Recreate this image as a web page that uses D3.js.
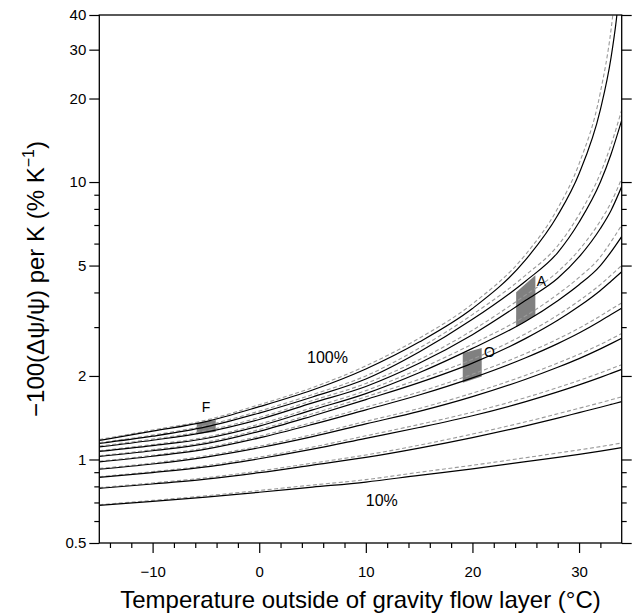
<!DOCTYPE html>
<html><head><meta charset="utf-8">
<script src="https://cdn.jsdelivr.net/npm/d3@7/dist/d3.min.js"></script>
<style>body{margin:0;background:#fff}svg{display:block}</style>
</head><body>
<svg id="chart" width="633" height="613"></svg>
<script>
// ---------------- data ----------------
const temps          = [-15,-10,-5,0,5,10,15,20,25,28,30,32,33,34];
const temps100       = [-15,-10,-5,0,5,10,15,20,25,28,30,32,33,33.5,33.75];
const temps100Dashed = [-15,-10,-5,0,5,10,15,20,25,28,30,32,33,33.3];

const rh10  = [0.683,0.706,0.732,0.762,0.795,0.829,0.877,0.925,0.982,1.018,1.044,1.072,1.087,1.103];
const rh20  = [0.787,0.816,0.850,0.896,0.954,1.017,1.099,1.199,1.322,1.410,1.475,1.543,1.579,1.616];
const rh30  = [0.862,0.897,0.940,1.006,1.089,1.192,1.304,1.438,1.617,1.753,1.858,1.977,2.043,2.112];
const rh40  = [0.922,0.963,1.020,1.102,1.209,1.344,1.490,1.684,1.946,2.149,2.310,2.504,2.615,2.735];
const rh50  = [0.980,1.027,1.090,1.196,1.338,1.510,1.707,1.968,2.327,2.616,2.856,3.156,3.330,3.510];
const rh60  = [1.025,1.075,1.140,1.263,1.435,1.644,1.892,2.225,2.732,3.174,3.564,4.067,4.390,4.750];
const rh70  = [1.069,1.122,1.190,1.319,1.509,1.728,2.054,2.514,3.149,3.736,4.263,5.000,5.600,6.360];
const rh80  = [1.110,1.173,1.255,1.394,1.599,1.833,2.222,2.818,3.747,4.500,5.370,6.800,7.900,9.630];
const rh90  = [1.142,1.213,1.310,1.470,1.680,1.950,2.440,3.200,4.400,5.570,7.160,10.00,12.60,16.70];
const rh100 = [1.171,1.265,1.370,1.550,1.780,2.120,2.650,3.500,5.250,7.590,10.72,18.25,28.10,38.50,47.30];

const rh10d  = [0.687,0.712,0.740,0.773,0.809,0.846,0.899,0.953,1.015,1.055,1.083,1.113,1.129,1.147];
const rh20d  = [0.792,0.823,0.859,0.909,0.970,1.038,1.126,1.235,1.367,1.461,1.530,1.602,1.641,1.681];
const rh30d  = [0.867,0.904,0.950,1.020,1.108,1.217,1.337,1.481,1.672,1.816,1.927,2.052,2.123,2.196];
const rh40d  = [0.928,0.971,1.031,1.117,1.230,1.372,1.527,1.735,2.012,2.226,2.395,2.599,2.717,2.844];
const rh50d  = [0.986,1.035,1.102,1.213,1.361,1.543,1.751,2.029,2.411,2.718,2.973,3.292,3.477,3.668];
const rh60d  = [1.031,1.085,1.154,1.282,1.461,1.682,1.945,2.298,2.841,3.314,3.732,4.270,4.618,5.002];
const rh70d  = [1.076,1.132,1.204,1.340,1.539,1.771,2.116,2.607,3.294,3.941,4.532,5.375,6.093,6.996];
const rh80d  = [1.118,1.184,1.270,1.416,1.631,1.879,2.289,2.922,3.919,4.748,5.692,7.249,8.437,10.304];
const rh90d  = [1.150,1.224,1.326,1.494,1.714,2.001,2.518,3.328,4.620,5.893,7.633,10.76,13.63,18.20];
const rh100d = [1.180,1.277,1.386,1.575,1.816,2.175,2.735,3.640,5.490,8.040,11.63,21.05,35.40,44.40];

const boxF = [[-5.86,1.357],[-4.08,1.388],[-4.08,1.259],[-5.86,1.232]];
const boxO = [[19.09,2.415],[20.87,2.520],[20.87,1.990],[19.09,1.890]];
const boxA = [[24.10,4.010],[25.90,4.610],[25.90,3.300],[24.10,3.000]];

const yMajorTicks = [0.5,1,2,5,10,20,30,40];
const yMinorTicks = [0.6,0.7,0.8,0.9,3,4,6,7,8,9];
const xMajorTicks = [-10,0,10,20,30];
const xMinorTicks = [-14,-12,-8,-6,-4,-2,2,4,6,8,12,14,16,18,22,24,26,28,32];

// ---------------- drawing ----------------
const FONT = '"Liberation Sans", Arial, Helvetica, sans-serif';
const svg = d3.select('#chart');
const L = 99.3, R = 621.7, T = 15, B = 543;
const x = d3.scaleLinear().domain([-15, 34]).range([L, R]);
const y = d3.scaleLog().domain([0.5, 40]).range([B, T]);

svg.append('defs').append('clipPath').attr('id','plotclip')
  .append('rect').attr('x', L).attr('y', T).attr('width', R - L).attr('height', B - T);

const plot = svg.append('g').attr('clip-path','url(#plotclip)');

// boxes
[boxF, boxO, boxA].forEach(b => {
  plot.append('path')
    .attr('d', 'M' + b.map(p => x(p[0]) + ',' + y(p[1])).join('L') + 'Z')
    .attr('fill', '#808080');
});

const line = d3.line().x(d => x(d[0])).y(d => y(d[1])).curve(d3.curveMonotoneX);
const zip = (ts, vs) => ts.map((t, i) => [t, vs[i]]);

const dashedSeries = [
  [temps, rh10d],[temps, rh20d],[temps, rh30d],[temps, rh40d],[temps, rh50d],
  [temps, rh60d],[temps, rh70d],[temps, rh80d],[temps, rh90d],[temps100Dashed, rh100d]
];
const solidSeries = [
  [temps, rh10],[temps, rh20],[temps, rh30],[temps, rh40],[temps, rh50],
  [temps, rh60],[temps, rh70],[temps, rh80],[temps, rh90],[temps100, rh100]
];

dashedSeries.forEach(s => {
  plot.append('path').attr('d', line(zip(s[0], s[1])))
    .attr('fill','none').attr('stroke','#9a9a9a').attr('stroke-width',1.1)
    .attr('stroke-dasharray','4,2.5');
});
solidSeries.forEach(s => {
  plot.append('path').attr('d', line(zip(s[0], s[1])))
    .attr('fill','none').attr('stroke','#000').attr('stroke-width',1.2);
});

// labels in plot
const lab = (t, v, txt, size, anchor) => svg.append('text')
  .attr('x', x(t)).attr('y', y(v)).attr('text-anchor', anchor)
  .attr('font-family', FONT).attr('font-size', size).attr('fill','#000').text(txt);
lab(6.4, 2.23, '100%', 16, 'middle');
lab(11.5, 0.68, '10%', 16, 'middle');
lab(-5.0, 1.478, 'F', 14, 'middle');
lab(21.08, 2.35, 'O', 14, 'start');
lab(26.03, 4.21, 'A', 14, 'start');

// frame
svg.append('rect').attr('x', L).attr('y', T).attr('width', R - L).attr('height', B - T)
  .attr('fill','none').attr('stroke','#000').attr('stroke-width',1.3);

// axes
function styleAxis(g) {
  g.select('.domain').remove();
  g.selectAll('line').attr('stroke','#000').attr('stroke-width',1.2);
  g.selectAll('text').attr('font-family', FONT).attr('font-size', 15).attr('fill','#000');
}
svg.append('g').attr('transform', `translate(${L},0)`)
  .call(d3.axisLeft(y).tickValues(yMajorTicks).tickSize(10).tickPadding(3).tickFormat(d => String(d)))
  .call(styleAxis);
svg.append('g').attr('transform', `translate(${L},0)`)
  .call(d3.axisLeft(y).tickValues(yMinorTicks).tickSize(5).tickFormat(''))
  .call(styleAxis);
svg.append('g').attr('transform', `translate(${R},0)`)
  .call(d3.axisRight(y).tickValues(yMajorTicks).tickSize(10).tickFormat(''))
  .call(styleAxis);
svg.append('g').attr('transform', `translate(${R},0)`)
  .call(d3.axisRight(y).tickValues(yMinorTicks).tickSize(5).tickFormat(''))
  .call(styleAxis);
svg.append('g').attr('transform', `translate(0,${B})`)
  .call(d3.axisBottom(x).tickValues(xMajorTicks).tickSize(10).tickPadding(13))
  .call(styleAxis);
svg.append('g').attr('transform', `translate(0,${B})`)
  .call(d3.axisBottom(x).tickValues(xMinorTicks).tickSize(5).tickFormat(''))
  .call(styleAxis);

// axis titles
svg.append('text').attr('x', (L + R) / 2).attr('y', 608).attr('text-anchor','middle')
  .attr('font-family', FONT).attr('font-size', 24).attr('fill','#000')
  .text('Temperature outside of gravity flow layer (\u00B0C)');

const yt = svg.append('text').attr('transform', `translate(44,${(T + B) / 2}) rotate(-90)`)
  .attr('text-anchor','middle').attr('font-family', FONT).attr('font-size', 24).attr('fill','#000');
yt.append('tspan').text('\u2212100(\u0394\u03C8/\u03C8) per K (% K');
yt.append('tspan').attr('font-size', 16).attr('dy', -10).text('\u22121');
yt.append('tspan').attr('dy', 10).text(')');
</script>
</body></html>
